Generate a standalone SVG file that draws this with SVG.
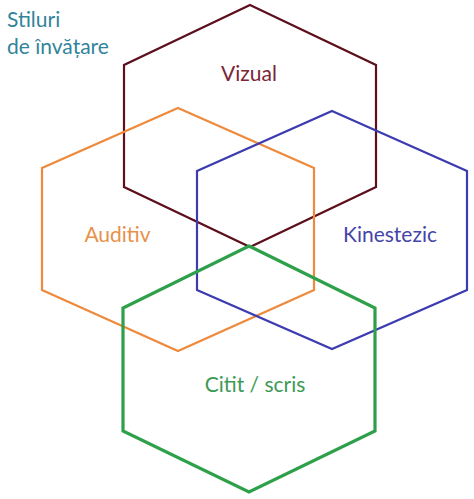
<svg xmlns="http://www.w3.org/2000/svg" width="474" height="499" viewBox="0 0 474 499">
<style>
.hex{fill:none;stroke-linejoin:miter}
.lbl{font-family:Lato,"Open Sans","Liberation Sans",sans-serif;font-size:21px;text-anchor:middle}
.title{font-family:Lato,"Open Sans","Liberation Sans",sans-serif;font-size:21px;fill:#31849b}
</style>
<rect width="474" height="499" fill="#ffffff"/>
<g id="title">
<text class="title" x="7" y="27">Stiluri</text>
<text class="title" x="7" y="54">de învățare</text>
</g>
<g id="vizual">
<polygon class="hex" points="250,5 376,65 376,187 250,247 124,187 124,65" stroke="#5c0f1c" stroke-width="2.2"/>
<text class="lbl" x="249" y="81" fill="#7a2535">Vizual</text>
</g>
<g id="auditiv">
<polygon class="hex" points="178,108 314,168 314,290 178,351 42,290 42,168" stroke="#ee8a3c" stroke-width="2.2"/>
<text class="lbl" x="117.5" y="242" fill="#e8914a">Auditiv</text>
</g>
<g id="kinestezic">
<polygon class="hex" points="332,111 467,171 467,290 332,349 197,290 197,171" stroke="#3c3cb0" stroke-width="2.2"/>
<text class="lbl" x="390" y="242" fill="#4545a8">Kinestezic</text>
</g>
<g id="citit">
<polygon class="hex" points="249,246 375,308 375,431 249,492 123,431 123,308" stroke="#2ea04a" stroke-width="3.2"/>
<text class="lbl" x="255" y="392" fill="#3d9a55">Citit / scris</text>
</g>
<g id="connectors"></g>
</svg>
